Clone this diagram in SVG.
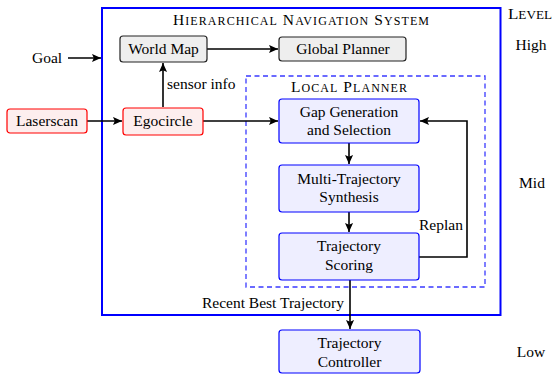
<svg xmlns="http://www.w3.org/2000/svg" width="554" height="375" viewBox="0 0 554 375">
<style>
text{font-family:"Liberation Serif","Times New Roman",serif;font-size:15.5px;fill:#000}
.c{text-anchor:middle}
.sm{font-size:12px}
.gray{fill:#eeeeee;stroke:#222;stroke-width:1.2}
.red{fill:#fdeeee;stroke:#ff0000;stroke-width:1.2}
.blue{fill:#eeeeff;stroke:#0000ff;stroke-width:1.2}
.ln{fill:none;stroke:#000;stroke-width:1.6}
</style>
<defs>
<marker id="ah" viewBox="0 0 10 10" refX="10" refY="5" markerWidth="9" markerHeight="9" markerUnits="userSpaceOnUse" orient="auto">
<path d="M0,0.5 L10,5 L0,9.5 L2,5 Z" fill="#000"/>
</marker>
</defs>
<rect width="554" height="375" fill="#fff"/>
<g id="system">
<rect x="102" y="8" width="398.5" height="307" fill="none" stroke="#0000ff" stroke-width="2"/>
<text x="173" y="25" textLength="256" lengthAdjust="spacing">H<tspan class="sm">IERARCHICAL</tspan> N<tspan class="sm">AVIGATION</tspan> S<tspan class="sm">YSTEM</tspan></text>
</g>
<g id="localplanner">
<rect x="246" y="76" width="239" height="211" fill="none" stroke="#3a3aff" stroke-width="1.3" stroke-dasharray="5,3.5"/>
<text x="291" y="92" textLength="116" lengthAdjust="spacing">L<tspan class="sm">OCAL</tspan> P<tspan class="sm">LANNER</tspan></text>
</g>
<g id="levels">
<text x="508" y="19" textLength="44" lengthAdjust="spacingAndGlyphs">L<tspan class="sm">EVEL</tspan></text>
<text class="c" x="531" y="50">High</text>
<text class="c" x="532" y="188">Mid</text>
<text class="c" x="531" y="357">Low</text>
</g>
<g id="connectors">
<path class="ln" d="M68,58 H101" marker-end="url(#ah)"/>
<path class="ln" d="M207,49 H278" marker-end="url(#ah)"/>
<path class="ln" d="M163,107 V63" marker-end="url(#ah)"/>
<path class="ln" d="M87,121 H122" marker-end="url(#ah)"/>
<path class="ln" d="M203,121 H278" marker-end="url(#ah)"/>
<path class="ln" d="M349,143 V164" marker-end="url(#ah)"/>
<path class="ln" d="M349,212 V232" marker-end="url(#ah)"/>
<path class="ln" d="M419,257 H467 V121 H420" marker-end="url(#ah)"/>
<path class="ln" d="M350,280 V329" marker-end="url(#ah)"/>
<text x="32" y="63">Goal</text>
<text x="167" y="89">sensor info</text>
<text x="419" y="230">Replan</text>
<text x="344" y="308" text-anchor="end">Recent Best Trajectory</text>
</g>
<g id="worldmap">
<rect class="gray" x="120" y="36" width="87" height="26" rx="3"/>
<text class="c" x="163.5" y="54">World Map</text>
</g>
<g id="globalplanner">
<rect class="gray" x="279" y="37" width="127" height="24" rx="3"/>
<text class="c" x="343" y="54">Global Planner</text>
</g>
<g id="laserscan">
<rect class="red" x="7" y="109" width="80" height="24" rx="3"/>
<text class="c" x="47" y="126">Laserscan</text>
</g>
<g id="egocircle">
<rect class="red" x="123" y="108" width="80" height="27" rx="3"/>
<text class="c" x="163" y="126">Egocircle</text>
</g>
<g id="gap">
<rect class="blue" x="279" y="99" width="140" height="44" rx="3"/>
<text class="c" x="349" y="117">Gap Generation</text>
<text class="c" x="349" y="135">and Selection</text>
</g>
<g id="multi">
<rect class="blue" x="279" y="165" width="140" height="47" rx="3"/>
<text class="c" x="349" y="184">Multi-Trajectory</text>
<text class="c" x="349" y="202">Synthesis</text>
</g>
<g id="scoring">
<rect class="blue" x="279" y="233" width="140" height="47" rx="3"/>
<text class="c" x="349" y="251">Trajectory</text>
<text class="c" x="349" y="270">Scoring</text>
</g>
<g id="controller">
<rect class="blue" x="279" y="330" width="141" height="43" rx="3"/>
<text class="c" x="349.5" y="348">Trajectory</text>
<text class="c" x="349.5" y="367">Controller</text>
</g>
</svg>
